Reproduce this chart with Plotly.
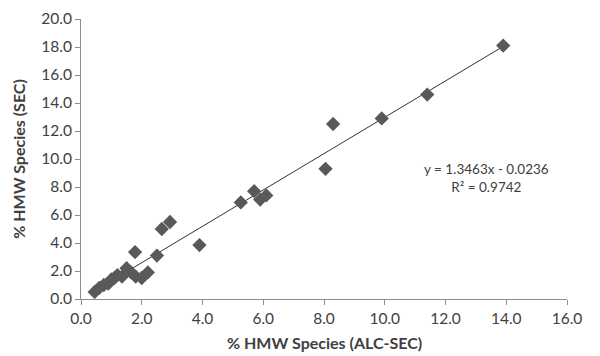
import numpy as np
import plotly.graph_objects as go

# Data
alc_sec = [0.45, 0.6, 0.75, 0.9, 1.0, 1.1, 1.2, 1.35, 1.5, 1.65, 1.8, 2.0, 2.2,
           1.78, 2.5, 2.66, 2.93, 3.9, 5.26, 5.7, 5.9, 6.1, 8.05, 8.3, 9.9, 11.4, 13.9]
sec = [0.5, 0.8, 1.0, 1.1, 1.4, 1.5, 1.7, 1.6, 2.2, 1.9, 1.6, 1.5, 1.9,
       3.35, 3.1, 5.0, 5.5, 3.85, 6.9, 7.7, 7.1, 7.4, 9.3, 12.5, 12.9, 14.6, 18.1]
x_ticks = [0, 2, 4, 6, 8, 10, 12, 14, 16]
y_ticks = [0, 2, 4, 6, 8, 10, 12, 14, 16, 18, 20]
equation_text = "y = 1.3463x - 0.0236<br>R² = 0.9742"
x_title = "% HMW Species (ALC-SEC)"
y_title = "% HMW Species (SEC)"

# Linear trendline fitted to the plotted points
slope, intercept = np.polyfit(alc_sec, sec, 1)
xl = np.array([min(alc_sec), max(alc_sec)])
yl = slope * xl + intercept

FONT = "Lato, Open Sans, sans-serif"

fig = go.Figure()
fig.add_trace(go.Scatter(x=xl, y=yl, mode="lines",
                         line=dict(color="#333333", width=1), hoverinfo="skip"))
fig.add_trace(go.Scatter(x=alc_sec, y=sec, mode="markers",
                         marker=dict(symbol="diamond", size=11, color="#595959",
                                     line=dict(width=0))))

fig.add_annotation(x=13.35, y=8.65, xref="x", yref="y", text=equation_text,
                   showarrow=False, align="center",
                   font=dict(family=FONT, size=13.5, color="#404040"))
fig.add_annotation(x=0.5, y=-0.157, xref="paper", yref="paper", text=f"<b>{x_title}</b>",
                   showarrow=False, xanchor="center", yanchor="middle",
                   font=dict(family=FONT, size=16, color="#404040"))
fig.add_annotation(x=-0.13, y=0.5, xref="paper", yref="paper", text=f"<b>{y_title}</b>",
                   showarrow=False, xanchor="center", yanchor="middle", textangle=-90,
                   font=dict(family=FONT, size=16, color="#404040"))

axis_font = dict(family=FONT, size=15.5, color="#404040")

# Page body adds an 8px offset, so the figure is 8px smaller and margins shifted
fig.update_layout(
    width=592, height=348,
    margin=dict(l=73, r=33, t=11, b=57, autoexpand=False),
    paper_bgcolor="white", plot_bgcolor="white",
    showlegend=False,
    xaxis=dict(range=[0, 16], tickvals=x_ticks, ticktext=[f"{v:.1f}" for v in x_ticks],
               showgrid=False, zeroline=False, showline=True, linecolor="#8c8c8c",
               linewidth=1, ticks="outside", ticklen=5, tickcolor="#8c8c8c",
               tickfont=axis_font, automargin=False),
    yaxis=dict(range=[0, 20], tickvals=y_ticks, ticktext=[f"{v:.1f}" for v in y_ticks],
               showgrid=False, zeroline=False, showline=True, linecolor="#8c8c8c",
               linewidth=1, ticks="outside", ticklen=5, tickcolor="#8c8c8c",
               tickfont=axis_font, automargin=False),
)

fig.write_html("out.html")
